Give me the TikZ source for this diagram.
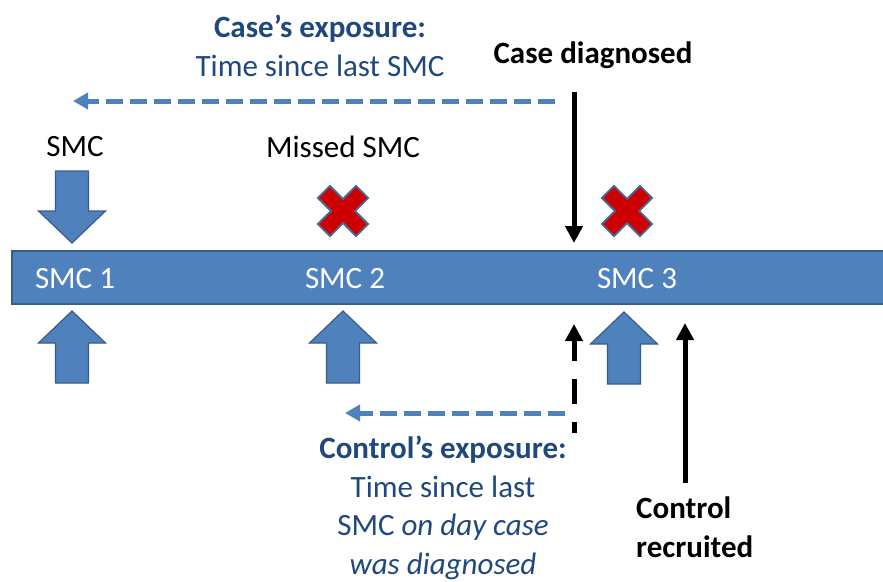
\documentclass[tikz,border=0pt]{standalone}
\usepackage{fontspec}
\setmainfont{Carlito}
\usetikzlibrary{arrows.meta}
\definecolor{smcblue}{HTML}{4F81BD}
\definecolor{smcedge}{HTML}{385D8A}
\definecolor{txtblue}{HTML}{1F497D}
\definecolor{xred}{HTML}{CC0000}
\definecolor{xedge}{HTML}{4A6894}
\begin{document}
\begin{tikzpicture}[x=1pt,y=-1pt,
  lbl/.style={inner sep=0pt, font=\fontsize{31}{38.5}\selectfont},
  blbl/.style={inner sep=0pt, font=\fontsize{31}{38.5}\selectfont\bfseries},
  barbox/.style={fill=smcblue, draw=smcedge, line width=1.5pt},
  blockarrow/.style={fill=smcblue, draw=smcedge, line width=1.2pt, line join=miter},
  xshape/.style={fill=xred, draw=xedge, line width=1.8pt, line join=miter},
  blk/.style={line width=5pt, -{Triangle[width=17pt,length=17pt]}},
  blkdash/.style={line width=5pt, dash pattern=on 25pt off 18pt, dash phase=14pt, -{Triangle[width=17pt,length=17pt]}},
  bluedash/.style={draw=smcblue, line width=5pt, dash pattern=on 17pt off 7pt, -{Triangle[width=16pt,length=15pt]}},
  blockup/.pic={\draw[blockarrow] (0,0) -- (33.5,32) -- (16.5,32) -- (16.5,72) -- (-16.5,72) -- (-16.5,32) -- (-33.5,32) -- cycle;},
  redx/.pic={\draw[xshape, rotate=45] (27,8.5) -- (8.5,8.5) -- (8.5,27) -- (-8.5,27) -- (-8.5,8.5) -- (-27,8.5) -- (-27,-8.5) -- (-8.5,-8.5) -- (-8.5,-27) -- (8.5,-27) -- (8.5,-8.5) -- (27,-8.5) -- cycle;}
]
\useasboundingbox[fill=white] (0,0) rectangle (883,581);

% timeline bar
\node[barbox, minimum width=880pt, minimum height=53pt, anchor=north west, inner sep=0pt] (bar) at (11,250) {};
\node[lbl, text=white] (smc1) at (75,279) {SMC 1};
\node[lbl, text=white] (smc2) at (345,279) {SMC 2};
\node[lbl, text=white] (smc3) at (637,279) {SMC 3};

% block arrows
\pic[yscale=-1] at (72,243) {blockup};
\pic at (72,311) {blockup};
\pic at (343,311) {blockup};
\pic at (624,312) {blockup};

% missed SMC crosses
\pic at (343,211) {redx};
\pic at (627,211) {redx};

% labels above
\node[lbl] (smclbl) at (75,147) {SMC};
\node[lbl] (missed) at (343,147) {Missed SMC};
\node[blbl] (casediag) at (593,55) {Case diagnosed};
\node[lbl, text=txtblue, align=center] (caseexp) at (320,46) {\textbf{Case’s exposure:}\\Time since last SMC};

% labels below
\node[lbl, text=txtblue, align=center] (ctrlexp) at (443,508) {\textbf{Control’s exposure:}\\Time since last\\SMC \textit{on day case}\\\textit{was diagnosed}};
\node[blbl, align=left, anchor=west] (ctrlrec) at (636,527) {Control\\recruited};

% connectors
\coordinate (cdtop) at (574,92);
\coordinate (cdtip) at (574,243);
\draw[blk] (cdtop) -- (cdtip);

\coordinate (cestart) at (555,101);
\coordinate (ceend) at (73,101);
\draw[bluedash] (cestart) -- (ceend);

\coordinate (dbot) at (574,433);
\coordinate (dtip) at (574,324);
\draw[blkdash] (dbot) -- (dtip);

\coordinate (crbot) at (685,483);
\coordinate (crtip) at (685,323);
\draw[blk] (crbot) -- (crtip);

\coordinate (cxstart) at (565,413);
\coordinate (cxend) at (345,413);
\draw[bluedash] (cxstart) -- (cxend);
\end{tikzpicture}
\end{document}
